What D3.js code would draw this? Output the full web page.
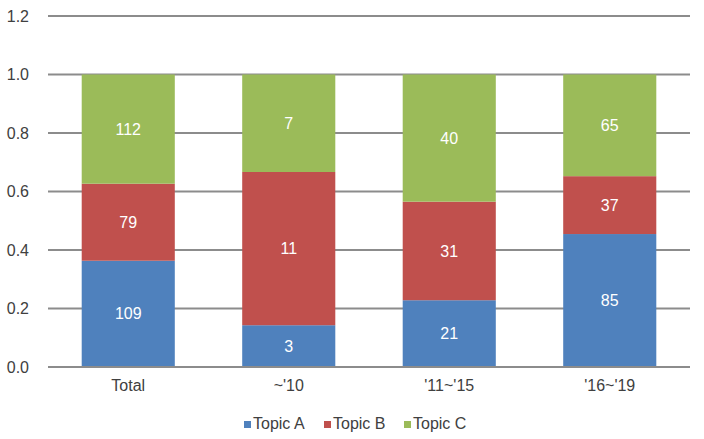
<!DOCTYPE html>
<html><head><meta charset="utf-8">
<script src="https://cdn.jsdelivr.net/npm/d3@7"></script>
<style>body{margin:0;background:#fff}text{font-family:"Liberation Sans",Arial,sans-serif}</style>
</head><body><svg id="c" width="704" height="439"></svg>
<script>
const categories = ["Total", "~'10", "'11~'15", "'16~'19"];
const seriesNames = ["Topic A", "Topic B", "Topic C"];
const topicA = [109, 3, 21, 85];
const topicB = [79, 11, 31, 37];
const topicC = [112, 7, 40, 65];
const yTicks = [0, 0.2, 0.4, 0.6, 0.8, 1.0, 1.2];
const colors = ["#4F81BD", "#C0504D", "#9BBB59"];

const svg = d3.select("#c");
const m = {l: 48, r: 14, t: 16, b: 72};
const W = 704, H = 439;
const FS = 16;
const x = d3.scaleBand().domain(categories).range([m.l, W - m.r]).paddingInner(0.42).paddingOuter(0.21);
const y = d3.scaleLinear().domain([0, 1.2]).range([H - m.b, m.t]);

// grid
svg.append("g").selectAll("line").data(yTicks).join("line")
  .attr("x1", m.l).attr("x2", W - m.r)
  .attr("y1", d => y(d)).attr("y2", d => y(d))
  .attr("stroke", "#8c8c8c").attr("stroke-width", 2);

svg.append("g").selectAll("text").data(yTicks).join("text")
  .attr("x", 29).attr("y", d => y(d)).attr("dy", "0.35em")
  .attr("text-anchor", "end").attr("font-size", FS).attr("fill", "#404040")
  .text(d => d.toFixed(1));

const rows = categories.map((c, i) => {
  const vals = [topicA[i], topicB[i], topicC[i]];
  return {cat: c, vals, tot: d3.sum(vals)};
});

rows.forEach(r => {
  let acc = 0;
  r.vals.forEach((v, j) => {
    const y0 = acc / r.tot, y1 = (acc + v) / r.tot;
    acc += v;
    svg.append("rect")
      .attr("x", x(r.cat)).attr("width", x.bandwidth())
      .attr("y", y(y1)).attr("height", y(y0) - y(y1))
      .attr("fill", colors[j]);
    svg.append("text")
      .attr("x", x(r.cat) + x.bandwidth() / 2).attr("y", (y(y0) + y(y1)) / 2)
      .attr("dy", "0.35em").attr("text-anchor", "middle")
      .attr("font-size", FS).attr("fill", "#fff").text(v);
  });
});

// baseline
svg.append("line").attr("x1", m.l).attr("x2", W - m.r).attr("y1", y(0)).attr("y2", y(0))
  .attr("stroke", "#8c8c8c").attr("stroke-width", 2);

svg.append("g").selectAll("text").data(categories).join("text")
  .attr("x", d => x(d) + x.bandwidth() / 2).attr("y", 391)
  .attr("text-anchor", "middle").attr("font-size", FS).attr("fill", "#404040")
  .text(d => d);

// legend
const lg = svg.append("g");
const lx = [244, 324, 404];
seriesNames.forEach((s, i) => {
  lg.append("rect").attr("x", lx[i]).attr("y", 421).attr("width", 7).attr("height", 7).attr("fill", colors[i]);
  lg.append("text").attr("x", lx[i] + 9).attr("y", 429).attr("font-size", FS).attr("fill", "#404040").text(s);
});
</script></body></html>
